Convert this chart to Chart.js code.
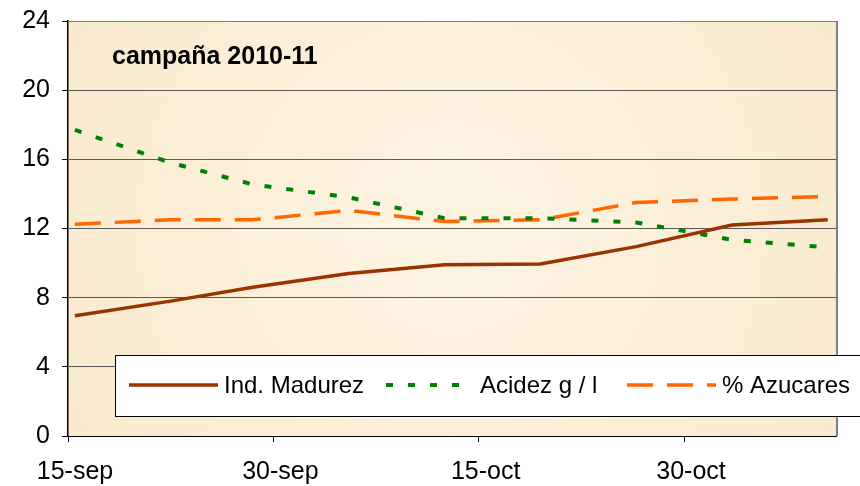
<!DOCTYPE html>
<html>
<head>
<meta charset="utf-8">
<script src="https://cdn.jsdelivr.net/npm/chart.js@4/dist/chart.umd.min.js"></script>
<style>
  body { margin: 0; background: #fff; }
  #grafico { display: block; }
</style>
</head>
<body>
<canvas id="grafico" width="860" height="486"></canvas>
<script>
// --- Datos (días desde el 15-sep) ---
const fechas = ['15-sep', '22-sep', '28-sep', '5-oct', '12-oct', '19-oct', '26-oct', '2-nov', '9-nov'];
const dias = [0, 7, 13, 20, 27, 34, 41, 48, 55];
const madurez = [6.95, 7.8, 8.6, 9.4, 9.9, 9.95, 10.95, 12.2, 12.5];
const acidez = [17.7, 15.8, 14.55, 13.8, 12.6, 12.6, 12.35, 11.35, 10.9];
const azucares = [12.25, 12.5, 12.5, 13.05, 12.4, 12.5, 13.5, 13.7, 13.85];

const marcasX = [-0.5, 14.5, 29.5, 44.5];
const etiquetasX = ['15-sep', '30-sep', '15-oct', '30-oct'];
const titulo = 'campaña 2010-11';

const fuente = "'Liberation Sans', Arial, sans-serif";

function puntos(valores) {
    return dias.map((d, i) => ({ x: d, y: valores[i] }));
}

// Fondo beige de la zona de trazado + borde gris arriba/derecha
const fondoPlugin = {
    id: 'fondo',
    beforeDraw(chart) {
        const { ctx, chartArea: a } = chart;
        const g = ctx.createRadialGradient((a.left + a.right) / 2, (a.top + a.bottom) / 2, 60,
            (a.left + a.right) / 2, (a.top + a.bottom) / 2, 500);
        g.addColorStop(0, '#fdf3e1');
        g.addColorStop(1, '#f9e9cb');
        ctx.save();
        ctx.fillStyle = g;
        ctx.fillRect(a.left, a.top, a.right - a.left, a.bottom - a.top);
        ctx.restore();
    },
    afterDraw(chart) {
        const { ctx, chartArea: a } = chart;
        ctx.save();
        // borde superior y derecho
        ctx.strokeStyle = '#808080';
        ctx.lineWidth = 1;
        ctx.beginPath();
        ctx.moveTo(a.left, a.top + 0.5);
        ctx.lineTo(a.right, a.top + 0.5);
        ctx.stroke();
        ctx.lineWidth = 2;
        ctx.beginPath();
        ctx.moveTo(a.right + 1, a.top);
        ctx.lineTo(a.right + 1, a.bottom);
        ctx.stroke();

        // título dentro del gráfico
        ctx.fillStyle = '#000';
        ctx.font = 'bold 25px ' + fuente;
        ctx.textBaseline = 'alphabetic';
        ctx.fillText(titulo, 112, 64);

        // leyenda (caja blanca sobre la parte baja)
        ctx.fillStyle = '#fff';
        ctx.fillRect(115, 355, 760, 61);
        ctx.strokeStyle = '#000';
        ctx.lineWidth = 1;
        ctx.strokeRect(115.5, 355.5, 760, 61);

        const posiciones = [[129, 218, 224], [386, 466, 480], [627, 716, 722]];
        ctx.font = '24px ' + fuente;
        ctx.textBaseline = 'middle';
        chart.data.datasets.forEach((ds, i) => {
            const [x0, x1, xt] = posiciones[i];
            ctx.strokeStyle = ds.borderColor;
            ctx.lineWidth = ds.borderWidth;
            ctx.setLineDash(ds.borderDash || []);
            ctx.beginPath();
            ctx.moveTo(x0, 385);
            ctx.lineTo(x1, 385);
            ctx.stroke();
            ctx.setLineDash([]);
            ctx.fillStyle = '#000';
            ctx.fillText(ds.label, xt, 386);
        });
        ctx.restore();
    }
};

new Chart(document.getElementById('grafico'), {
    type: 'line',
    data: {
        datasets: [
            { label: 'Ind. Madurez', data: puntos(madurez), borderColor: '#993300', borderWidth: 3.5 },
            { label: 'Acidez g / l', data: puntos(acidez), borderColor: '#008000', borderWidth: 4, borderDash: [7, 15] },
            { label: '% Azucares', data: puntos(azucares), borderColor: '#ff6600', borderWidth: 3.5, borderDash: [26, 14] }
        ]
    },
    options: {
        responsive: false,
        animation: false,
        layout: { padding: { top: 21, right: 24, left: 0, bottom: 0 } },
        elements: { point: { radius: 0 }, line: { tension: 0, fill: false } },
        plugins: { legend: { display: false }, tooltip: { enabled: false } },
        scales: {
            x: {
                type: 'linear',
                min: -0.5,
                max: 55.6,
                afterBuildTicks: axis => { axis.ticks = marcasX.map(v => ({ value: v })); },
                afterFit: s => { s.height = 50; s.paddingLeft = 0; s.paddingRight = 0; },
                ticks: {
                    callback: (v, i) => etiquetasX[i],
                    font: { family: fuente, size: 25 },
                    color: '#000',
                    padding: 15,
                    labelOffset: 7,
                    maxRotation: 0,
                    autoSkip: false
                },
                grid: { drawOnChartArea: false, drawTicks: true, tickLength: 6, color: '#000' },
                border: { color: '#000', width: 1 }
            },
            y: {
                min: 0,
                max: 24,
                afterFit: s => { s.width = 68; s.paddingTop = 0; s.paddingBottom = 0; },
                ticks: {
                    stepSize: 4,
                    font: { family: fuente, size: 25 },
                    color: '#000',
                    padding: 12
                },
                grid: {
                    color: c => (c.tick.value === 24 ? '#909090' : '#5a5a5a'),
                    tickLength: 6,
                    tickColor: '#000'
                },
                border: { color: '#000', width: 1.5 }
            }
        }
    },
    plugins: [fondoPlugin]
});
</script>
</body>
</html>
